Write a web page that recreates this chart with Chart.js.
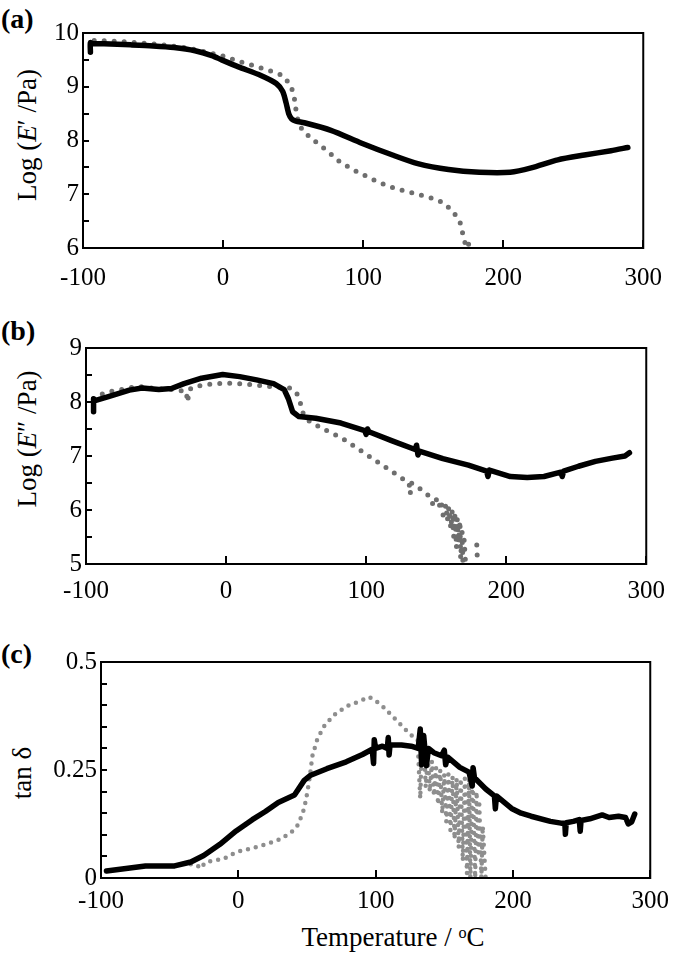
<!DOCTYPE html>
<html>
<head>
<meta charset="utf-8">
<script src="https://cdn.jsdelivr.net/npm/chart.js@4.4.0/dist/chart.umd.min.js"></script>
<style>
  body { margin: 0; background: #fff; width: 685px; height: 957px; position: relative; overflow: hidden;
         font-family: 'Liberation Serif', 'Times New Roman', serif; color: #000; }
  canvas { position: absolute; left: 0; }
  .tag { position: absolute; left: 1px; font-weight: bold; font-size: 28px; line-height: 1; }
  .ytitle { position: absolute; font-size: 27px; line-height: 1; white-space: nowrap;
            transform: translate(-50%, -50%) rotate(-90deg); }
  .xtitle { position: absolute; font-size: 27px; line-height: 1; white-space: nowrap;
            transform: translate(-50%, -50%); }
  .sup { font-size: 0.6em; position: relative; top: -0.5em; }
</style>
</head>
<body>
<div class="tag" style="top:5px">(a)</div>
<div class="tag" style="top:317px">(b)</div>
<div class="tag" style="top:640px">(c)</div>
<div class="ytitle" style="left:27px; top:135px">Log (<i>E</i>′ /Pa)</div>
<div class="ytitle" style="left:27px; top:439px">Log (<i>E</i>″ /Pa)</div>
<div class="ytitle" style="left:22px; top:773px">tan δ</div>
<div class="xtitle" style="left:393px; top:937px">Temperature / <span class="sup">o</span>C</div>

<canvas id="chartA" width="685" height="300" style="top:8px"></canvas>
<canvas id="chartB" width="685" height="300" style="top:323px"></canvas>
<canvas id="chartC" width="685" height="300" style="top:637px"></canvas>

<script>
// (a) storage modulus, log(E'/Pa)
const aBlackT = [-94.7, -94.7, -93, -85, -66, -50, -35, -20, -8, -1, 11, 27, 38, 42.6, 45, 47, 49, 52, 58, 77, 99, 121, 139, 161, 183, 205, 220, 239, 258, 277, 289];
const aBlackV = [9.64, 9.82, 9.80, 9.80, 9.78, 9.76, 9.73, 9.67, 9.58, 9.50, 9.37, 9.21, 9.06, 8.91, 8.70, 8.49, 8.40, 8.36, 8.33, 8.19, 7.95, 7.73, 7.57, 7.46, 7.41, 7.41, 7.49, 7.64, 7.73, 7.81, 7.87];
const aGrayT = [-92, -80, -60, -40, -25, -10, 2, 10, 20.7, 33.2, 42.6, 47.3, 50.4, 52, 53.5, 56.6, 64.4, 73.8, 83.1, 92.5, 101.9, 111.2, 123.7, 136.2, 145.5, 151.8, 158, 164.3, 169, 171, 173, 174.2, 176.7, 178.3];
const aGrayV = [9.86, 9.85, 9.82, 9.77, 9.72, 9.63, 9.56, 9.48, 9.40, 9.30, 9.21, 9.06, 8.88, 8.58, 8.37, 8.19, 8.01, 7.82, 7.61, 7.46, 7.34, 7.22, 7.10, 7.02, 6.95, 6.91, 6.83, 6.67, 6.50, 6.28, 6.07, 6.0, 6.16, 6.19];

// (b) loss modulus, log(E''/Pa)
const bBlackT = [-94.6, -94.6, -93, -84, -69, -60, -48, -39, -30, -17.5, -2.4, 9.7, 21.8, 33.9, 41.5, 44.5, 47.5, 52, 64, 82, 99, 100, 101, 102, 118.6, 135, 136, 137, 138, 154.8, 173, 186, 187, 188, 203, 215, 227, 239, 240, 241, 251.6, 263.7, 275.8, 284.8, 288];
const bBlackV = [7.82, 8.06, 8.03, 8.10, 8.22, 8.26, 8.23, 8.25, 8.34, 8.44, 8.51, 8.47, 8.41, 8.34, 8.23, 8.06, 7.82, 7.73, 7.70, 7.61, 7.47, 7.40, 7.50, 7.45, 7.28, 7.12, 7.20, 7.02, 7.09, 6.95, 6.83, 6.72, 6.62, 6.74, 6.62, 6.60, 6.62, 6.70, 6.62, 6.72, 6.81, 6.90, 6.96, 7.00, 7.06];
const bGrayT = [-94.6, -87, -75, -62.8, -50.7, -38.6, -28.5, -27.4, -26.5, -23.5, -14.4, -2.4, 9.7, 21.8, 33.9, 46, 50.5, 53.6, 55, 59.6, 70.2, 82.3, 94.4, 106.5, 118.6, 130.7, 131.5, 132.3, 142.7, 146, 148, 150, 152, 153.5, 155, 157, 158, 159, 160.5, 161.5, 162.5, 163.5, 164.5, 165, 166, 167, 167.5, 168.5, 169, 170, 171, 175, 179, 179.5];
const bGrayV = [8.06, 8.17, 8.23, 8.29, 8.25, 8.23, 8.20, 8.00, 8.22, 8.28, 8.32, 8.35, 8.34, 8.31, 8.28, 8.26, 8.16, 7.94, 7.79, 7.64, 7.49, 7.34, 7.13, 6.92, 6.71, 6.50, 6.30, 6.50, 6.32, 6.22, 6.08, 6.20, 6.05, 6.18, 5.90, 6.10, 5.80, 6.05, 5.65, 6.00, 5.50, 5.95, 5.30, 5.85, 5.40, 5.80, 5.10, 5.60, 5.05, 5.45, 5.00, null, 5.35, 5.02];

// (c) tan delta
const cBlackT = [-96, -67.6, -46.4, -34.6, -25.2, -13.4, -1.6, 10.2, 19.7, 29.1, 40.9, 48, 52.7, 64.5, 78.6, 90.4, 97.5, 98.5, 99, 100, 105, 108.5, 109.2, 109.8, 110.5, 118.8, 125.9, 131, 132.5, 133.5, 135, 137, 138.5, 142.4, 148, 150, 151, 152.5, 161.3, 168, 170.3, 171, 172, 180.2, 186.5, 187.2, 188, 199, 206, 213.2, 227.3, 235, 237.8, 238.2, 238.8, 244, 248.3, 249, 249.6, 256, 265, 270, 276.9, 282, 284, 286.5, 288.7];
const cBlackV = [0.016, 0.028, 0.028, 0.037, 0.052, 0.078, 0.109, 0.135, 0.154, 0.175, 0.192, 0.226, 0.238, 0.253, 0.269, 0.286, 0.298, 0.265, 0.320, 0.300, 0.305, 0.300, 0.325, 0.285, 0.308, 0.308, 0.305, 0.300, 0.345, 0.262, 0.330, 0.260, 0.300, 0.290, 0.283, 0.296, 0.262, 0.280, 0.256, 0.245, 0.213, 0.255, 0.232, 0.206, 0.190, 0.160, 0.190, 0.161, 0.150, 0.143, 0.131, 0.127, 0.127, 0.101, 0.128, 0.131, 0.135, 0.108, 0.133, 0.137, 0.146, 0.140, 0.143, 0.140, 0.125, 0.130, 0.148];
const cGrayT = [-34.6, -30, -27.6, -24, -20.5, -11, -1.6, 10.2, 22, 31.5, 39.7, 43.7, 48, 50.3, 52.2, 53.9, 57.4, 62.1, 69.2, 78.6, 88.1, 95.2, 100, 104.6, 114, 123.5, 128, 130.6, 131.5, 132.5, 133.5, 135.3, 136.5, 138, 139.5, 141, 142.5, 144, 145.5, 147, 148.5, 150, 151.5, 153, 154.5, 156, 157.5, 159, 160.5, 162, 163.5, 165, 166.5, 168, 169, 170.7, 171.5, 172.5, 173.5, 175, 175.5, 177, 178, 180.1];
const cGrayV = [0.032, 0.030, 0.022, 0.036, 0.039, 0.044, 0.060, 0.069, 0.080, 0.091, 0.109, 0.124, 0.161, 0.199, 0.237, 0.282, 0.320, 0.350, 0.376, 0.397, 0.409, 0.419, 0.410, 0.399, 0.369, 0.338, 0.325, 0.320, 0.250, 0.184, 0.290, 0.297, 0.210, 0.280, 0.200, 0.270, 0.190, 0.255, 0.170, 0.250, 0.150, 0.240, 0.130, 0.240, 0.110, 0.235, 0.090, 0.230, 0.070, 0.230, 0.040, 0.230, 0.010, 0.230, 0.000, 0.263, 0.120, 0.000, 0.200, 0.050, 0.170, 0.000, 0.120, 0.000];

const tempTicks = { min: -100, max: 300, step: 100 };
const serif = 'Liberation Serif';
Chart.defaults.font.family = serif;
Chart.defaults.color = '#000';

const pts = (xs, ys) => xs.map((x, i) => ({x: x, y: ys[i]}));

// full box around the plot area
const frame = {
    id: 'frame',
    afterDraw(chart) {
        const {ctx, chartArea} = chart;
        ctx.save();
        ctx.strokeStyle = '#000';
        ctx.lineWidth = 2;
        ctx.strokeRect(chartArea.left, chartArea.top, chartArea.right - chartArea.left, chartArea.bottom - chartArea.top);
        ctx.restore();
    }
};

function panel(id, cfg) {
    return new Chart(document.getElementById(id), {
        type: 'line',
        data: {
            datasets: [{
                data: pts(cfg.blackT, cfg.blackV),
                borderColor: '#000',
                borderWidth: 5.5,
                borderJoinStyle: 'round',
                borderCapStyle: 'round',
                pointRadius: 0,
                tension: cfg.smooth
            }, {
                data: pts(cfg.grayT, cfg.grayV),
                borderColor: cfg.gray,
                borderWidth: cfg.dot,
                borderDash: [0, cfg.gap],
                borderCapStyle: 'round',
                pointRadius: 0,
                tension: 0,
                spanGaps: false
            }]
        },
        options: {
            responsive: false,
            animation: false,
            events: [],
            layout: {padding: {top: 20, right: cfg.padRight, bottom: 0, left: 0}},
            plugins: {legend: {display: false}, tooltip: {enabled: false}},
            scales: {
                x: {
                    type: 'linear',
                    min: tempTicks.min,
                    max: tempTicks.max,
                    afterFit: s => { s.height = cfg.xHeight; },
                    ticks: {stepSize: tempTicks.step, padding: cfg.xPad, color: '#000', maxRotation: 0, autoSkip: false,
                            font: {family: serif, size: 25}},
                    grid: {drawOnChartArea: false, color: '#000', lineWidth: 2, tickLength: -8},
                    border: {display: false}
                },
                y: {
                    min: cfg.yMin,
                    max: cfg.yMax,
                    afterFit: s => { s.width = cfg.left; },
                    ticks: {stepSize: cfg.yStep, padding: 10, color: '#000', autoSkip: false,
                            font: {family: serif, size: 25}, callback: cfg.yLabel},
                    grid: {drawOnChartArea: false, color: '#000', lineWidth: 2, tickLength: -6},
                    border: {display: false}
                }
            }
        },
        plugins: [frame]
    });
}

const wholeLabel = v => Math.abs(v - Math.round(v)) < 1e-6 ? String(Math.round(v)) : '';
const quarterLabel = v => Math.abs(v * 4 - Math.round(v * 4)) < 1e-6 ? String(Math.round(v * 100) / 100) : '';

panel('chartA', {blackT: aBlackT, blackV: aBlackV, grayT: aGrayT, grayV: aGrayV, gray: '#6e6e6e', dot: 5, gap: 10, smooth: 0.25,
    yMin: 6, yMax: 10, yStep: 0.5, yLabel: wholeLabel, left: 83, padRight: 41, xHeight: 60, xPad: 23});
panel('chartB', {blackT: bBlackT, blackV: bBlackV, grayT: bGrayT, grayV: bGrayV, gray: '#6e6e6e', dot: 5, gap: 10, smooth: 0,
    yMin: 5, yMax: 9, yStep: 0.5, yLabel: wholeLabel, left: 86, padRight: 22, xHeight: 59, xPad: 20});
panel('chartC', {blackT: cBlackT, blackV: cBlackV, grayT: cGrayT, grayV: cGrayV, gray: '#8e8e8e', dot: 4.5, gap: 8, smooth: 0,
    yMin: 0, yMax: 0.5, yStep: 0.05, yLabel: quarterLabel, left: 101, padRight: 19, xHeight: 59, xPad: 16});
</script>
</body>
</html>
